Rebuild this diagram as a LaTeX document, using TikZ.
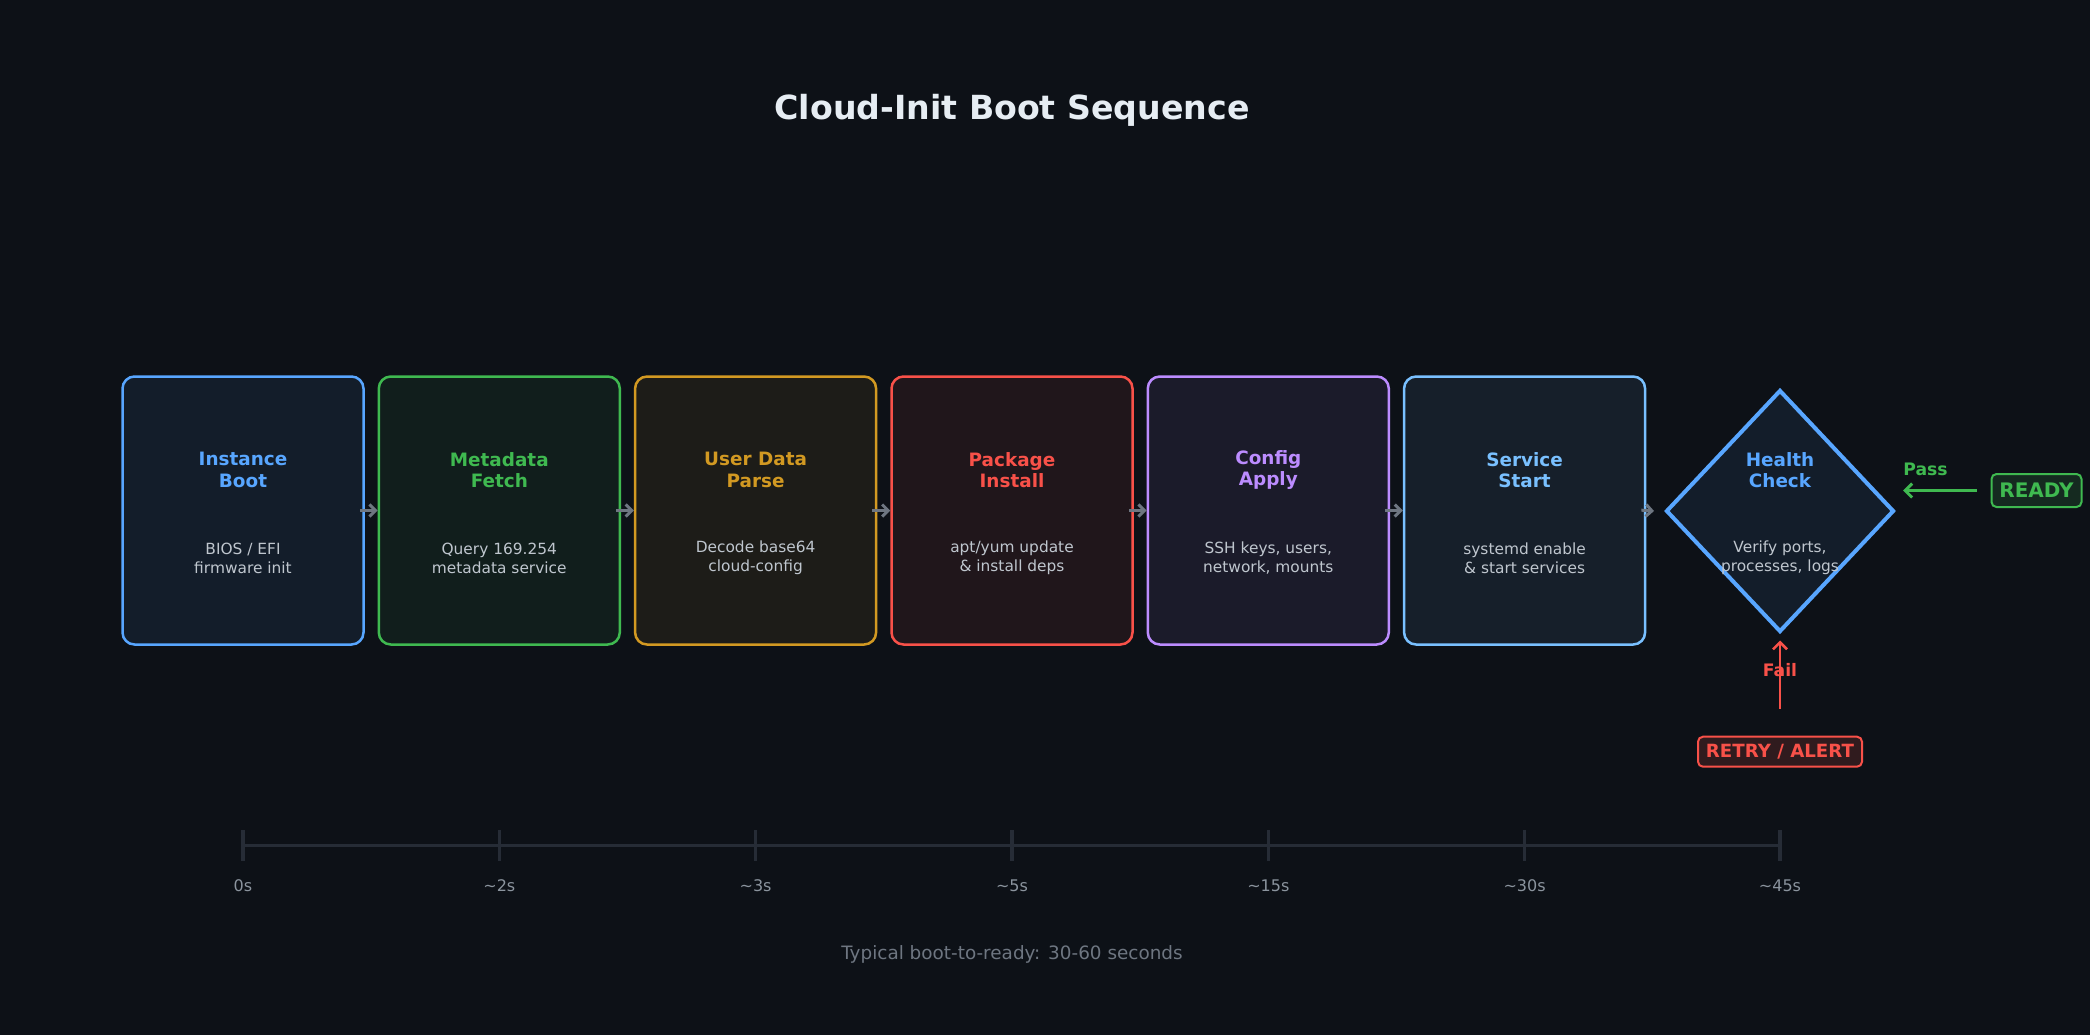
\documentclass[tikz,border=0pt]{standalone}
\usepackage{fontspec}
\setmainfont{DejaVu Sans}
\usetikzlibrary{shapes.geometric,arrows.meta}
\definecolor{bgc}{HTML}{0D1117}
\definecolor{cblue}{HTML}{58A6FF}
\definecolor{cgreen}{HTML}{3FB950}
\definecolor{cgold}{HTML}{D29922}
\definecolor{cred}{HTML}{F85149}
\definecolor{cpurple}{HTML}{BC8CFF}
\definecolor{clblue}{HTML}{79C0FF}
\definecolor{desc}{HTML}{BFC6CE}
\definecolor{agray}{HTML}{6E7681}
\definecolor{tlc}{HTML}{262C36}
\definecolor{tlabel}{HTML}{8B949E}
\definecolor{foot}{HTML}{6E7681}
\definecolor{titlec}{HTML}{E6EDF3}
\tikzset{
  stagebox/.style={draw=#1, fill=#1!8!bgc, line width=1.25pt, rounded corners=6pt,
    minimum width=120.5pt, minimum height=134pt, inner sep=0pt},
  titletxt/.style={font=\bfseries\fontsize{9.2}{10.85}\selectfont, align=center, text=#1, inner sep=0pt},
  desctxt/.style={font=\fontsize{7.7}{9.5}\selectfont, align=center, text=desc, inner sep=0pt},
  flow/.style={draw=agray, line width=1.5pt, -{Straight Barb[length=3pt,width=6pt]}, shorten <=-2.5pt},
  tline/.style={draw=tlc, line width=1.75pt},
  tlab/.style={font=\fontsize{8}{10}\selectfont, text=tlabel, inner sep=0pt},
  tagbox/.style={draw=#1, fill=#1!15!bgc, text=#1, line width=1pt, rounded corners=2.5pt, inner sep=0pt},
  smalllab/.style={font=\bfseries\fontsize{8.6}{10}\selectfont, text=#1, inner sep=0pt}
}
\begin{document}
\begin{tikzpicture}[x=0.5pt,y=-0.5pt]
\fill[bgc] (0,0) rectangle (2090,1035);
\useasboundingbox (0,0) rectangle (2090,1035);

% title
\node[font=\bfseries\fontsize{16.6}{20}\selectfont, text=titlec, inner sep=0pt] (title) at (1012,110.5) {Cloud-Init Boot Sequence};

% stage boxes
\node[stagebox=cblue]   (b1) at (243,510.5) {};
\node[stagebox=cgreen]  (b2) at (499.3,510.5) {};
\node[stagebox=cgold]   (b3) at (755.6,510.5) {};
\node[stagebox=cred]    (b4) at (1012,510.5) {};
\node[stagebox=cpurple] (b5) at (1268.3,510.5) {};
\node[stagebox=clblue]  (b6) at (1524.6,510.5) {};

% health check diamond
\node[diamond, draw=cblue, fill=cblue!8!bgc, line width=2pt, minimum width=114pt, minimum height=121pt, inner sep=0pt] (hc) at (1780,511) {};

% titles
\node[titletxt=cblue]   (b1t) at (243,470) {Instance\\Boot};
\node[titletxt=cgreen]  (b2t) at (499.3,470) {Metadata\\Fetch};
\node[titletxt=cgold]   (b3t) at (755.6,470) {User Data\\Parse};
\node[titletxt=cred]    (b4t) at (1012,470) {Package\\Install};
\node[titletxt=cpurple] (b5t) at (1268.3,470) {Config\\Apply};
\node[titletxt=clblue]  (b6t) at (1524.6,470) {Service\\Start};
\node[titletxt=cblue]   (hct) at (1780,470) {Health\\Check};

% descriptions
\node[desctxt] (b1d) at (243,558) {BIOS / EFI\\firmware init};
\node[desctxt] (b2d) at (499.3,558) {Query 169.254\\metadata service};
\node[desctxt] (b3d) at (755.6,558) {Decode base64\\cloud-config};
\node[desctxt] (b4d) at (1012,558) {apt/yum update\\\& install deps};
\node[desctxt] (b5d) at (1268.3,558) {SSH keys, users,\\network, mounts};
\node[desctxt] (b6d) at (1524.6,558) {systemd enable\\\& start services};
\node[desctxt] (hcd) at (1780,558) {Verify ports,\\processes, logs};

% flow arrows
\draw[flow] (b1.east) -- (b2.west);
\draw[flow] (b2.east) -- (b3.west);
\draw[flow] (b3.east) -- (b4.west);
\draw[flow] (b4.east) -- (b5.west);
\draw[flow] (b5.east) -- (b6.west);
\coordinate (hcin) at (1654,511);
\draw[flow] (b6.east) -- (hcin);

% READY / pass
\node[tagbox=cgreen, font=\bfseries\fontsize{10}{12}\selectfont, minimum width=45pt, minimum height=16.5pt] (ready) at (2036.5,490.5) {READY};
\node[smalllab=cgreen] (pass) at (1925.5,469.5) {Pass};
\coordinate (passS) at (1977,490.5);
\coordinate (passE) at (1903,490.5);
\draw[draw=cgreen, line width=1.5pt, -{Straight Barb[length=3.5pt,width=7pt]}] (passS) -- (passE);

% RETRY / fail
\node[tagbox=cred, font=\bfseries\fontsize{9.1}{11}\selectfont, minimum width=82pt, minimum height=15pt] (retry) at (1780,751.7) {RETRY / ALERT};
\coordinate (failS) at (1780,708.5);
\coordinate (failE) at (1780,640.5);
\draw[draw=cred, line width=1.25pt, -{Straight Barb[length=3.5pt,width=7pt]}] (failS) -- (failE);
\node[smalllab=cred] (fail) at (1780,670.5) {Fail};

% timeline
\coordinate (t1) at (243,845.5);
\coordinate (t7) at (1780,845.5);
\draw[tline] (t1) -- (t7);
\foreach \x/\lab [count=\i] in {243/0s, 499.3/\textasciitilde2s, 755.6/\textasciitilde3s, 1012/\textasciitilde5s, 1268.3/\textasciitilde15s, 1524.6/\textasciitilde30s, 1780/\textasciitilde45s}{
  \coordinate (tk\i a) at (\x,830);
  \coordinate (tk\i b) at (\x,861);
  \draw[tline] (tk\i a) -- (tk\i b);
  \node[tlab] (tl\i) at (\x,886) {\lab};
}

% footer
\node[font=\fontsize{9.2}{11}\selectfont, text=foot, inner sep=0pt] (footer) at (1012,954) {Typical boot-to-ready: 30-60 seconds};
\end{tikzpicture}
\end{document}
